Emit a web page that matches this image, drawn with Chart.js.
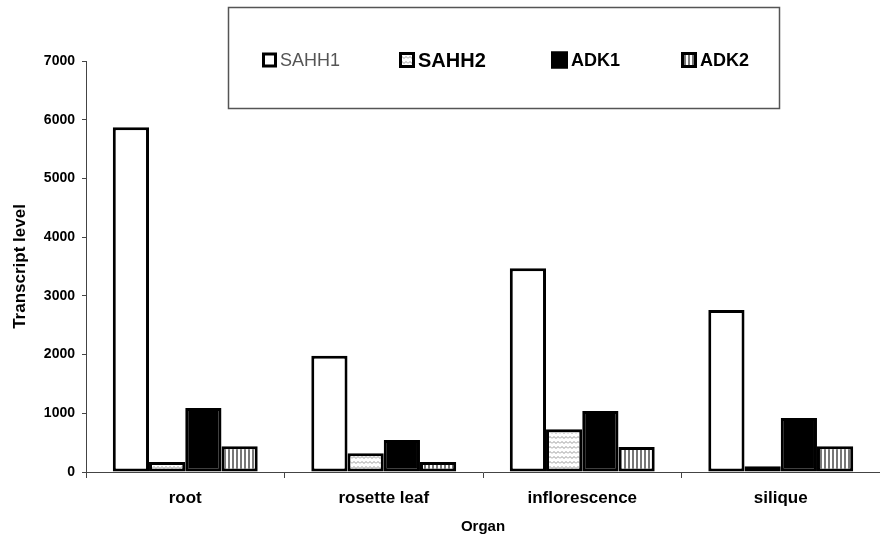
<!DOCTYPE html>
<html>
<head>
<meta charset="utf-8">
<script src="https://cdn.jsdelivr.net/npm/chart.js@4.4.1/dist/chart.umd.min.js"></script>
<style>
  body { margin: 0; background: #fff; }
  #wrap { width: 880px; height: 542px; }
</style>
</head>
<body>
<div id="wrap"><canvas id="barChart" width="880" height="542"></canvas></div>
<script>
const organs = ["root", "rosette leaf", "inflorescence", "silique"];
const seriesNames = ["SAHH1", "SAHH2", "ADK1", "ADK2"];
const sahh1 = [5870, 1980, 3470, 2760];
const sahh2 = [170, 320, 730, 100];
const adk1 = [1090, 545, 1040, 920];
const adk2 = [440, 170, 425, 440];
const yTicks = [0, 1000, 2000, 3000, 4000, 5000, 6000, 7000];

const FONT = "'Liberation Sans', Arial, sans-serif";

// hatch fills
function zigzagPattern() {
  const c = document.createElement("canvas");
  c.width = 8;
  c.height = 5;
  const g = c.getContext("2d");
  g.fillStyle = "#fff";
  g.fillRect(0, 0, 8, 5);
  g.strokeStyle = "#999";
  g.lineWidth = 1;
  g.beginPath();
  g.moveTo(0, 3.5);
  g.lineTo(2, 1.5);
  g.lineTo(4, 3.5);
  g.lineTo(6, 1.5);
  g.lineTo(8, 3.5);
  g.stroke();
  return g.createPattern(c, "repeat");
}

function stripePattern() {
  const c = document.createElement("canvas");
  c.width = 4;
  c.height = 4;
  const g = c.getContext("2d");
  g.fillStyle = "#fff";
  g.fillRect(0, 0, 4, 4);
  g.fillStyle = "#777";
  g.fillRect(0, 0, 2, 4);
  return g.createPattern(c, "repeat");
}

const fills = ["#ffffff", zigzagPattern(), "#000000", stripePattern()];
const values = [sahh1, sahh2, adk1, adk2];

// floating boxed legend like the original figure
const boxLegend = {
  id: "boxLegend",
  afterDraw(chart) {
    const ctx = chart.ctx;
    ctx.save();
    ctx.strokeStyle = "#555";
    ctx.lineWidth = 1.5;
    ctx.strokeRect(228.5, 7.5, 551, 101);

    const items = [
      { x: 262, size: 15, font: "18px " + FONT, color: "#555" },
      { x: 399, size: 16, font: "bold 20px " + FONT, color: "#000" },
      { x: 551, size: 17, font: "bold 18px " + FONT, color: "#000" },
      { x: 681, size: 16, font: "bold 18px " + FONT, color: "#000" },
    ];
    const cy = 60;
    items.forEach((it, i) => {
      const s = it.size;
      ctx.fillStyle = fills[i];
      ctx.fillRect(it.x, cy - s / 2, s, s);
      ctx.strokeStyle = "#000";
      ctx.lineWidth = 3;
      ctx.strokeRect(it.x + 1.5, cy - s / 2 + 1.5, s - 3, s - 3);
      ctx.fillStyle = it.color;
      ctx.font = it.font;
      ctx.textBaseline = "middle";
      ctx.textAlign = "left";
      ctx.fillText(seriesNames[i], it.x + s + 3, cy + 1);
    });
    ctx.restore();
  },
};

const ctx = document.getElementById("barChart").getContext("2d");
new Chart(ctx, {
  type: "bar",
  data: {
    labels: organs,
    datasets: seriesNames.map((name, i) => ({
      label: name,
      data: values[i],
      backgroundColor: fills[i],
      borderColor: "#000",
      borderWidth: 3,
      borderSkipped: false,
      categoryPercentage: 0.73,
      barPercentage: 1,
    })),
  },
  options: {
    responsive: false,
    animation: false,
    layout: { padding: { top: 61, right: 0, bottom: 0, left: 0 } },
    plugins: {
      legend: { display: false },
      tooltip: { enabled: false },
    },
    scales: {
      x: {
        afterFit: (s) => { s.height = 70; },
        grid: {
          offset: true,
          drawOnChartArea: false,
          drawTicks: true,
          tickLength: 6,
          color: "#444",
        },
        border: { color: "#444", width: 1 },
        ticks: {
          color: "#000",
          padding: 10,
          font: { family: FONT, size: 17, weight: "bold" },
        },
        title: {
          display: true,
          text: "Organ",
          color: "#000",
          font: { family: FONT, size: 15, weight: "bold" },
          padding: { top: 0, bottom: 6 },
        },
      },
      y: {
        min: 0,
        max: 7000,
        afterFit: (s) => { s.width = 86; },
        afterBuildTicks: (s) => { s.ticks = yTicks.map((v) => ({ value: v })); },
        grid: {
          drawOnChartArea: false,
          drawTicks: true,
          tickLength: 4,
          color: "#444",
        },
        border: { color: "#444", width: 1 },
        ticks: {
          color: "#000",
          padding: 7,
          callback: (v) => String(v),
          font: { family: FONT, size: 14, weight: "bold" },
        },
        title: {
          display: true,
          text: "Transcript level",
          color: "#000",
          font: { family: FONT, size: 17, weight: "bold" },
          padding: { top: 10, bottom: 0 },
        },
      },
    },
  },
  plugins: [boxLegend],
});
</script>
</body>
</html>
